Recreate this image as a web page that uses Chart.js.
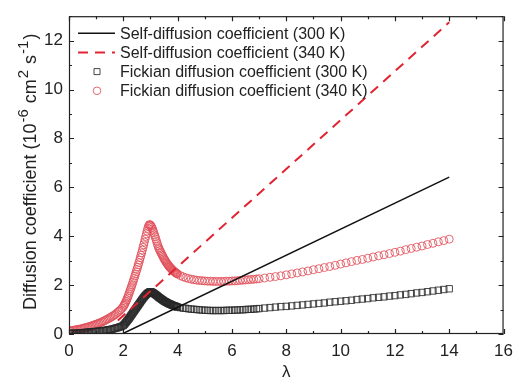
<!DOCTYPE html>
<html><head><meta charset="utf-8">
<script src="https://cdn.jsdelivr.net/npm/chart.js@4.4.1/dist/chart.umd.min.js"></script>
<style>html,body{margin:0;padding:0;background:#fff;} #wrap{width:520px;height:385px;}</style>
</head><body><div id="wrap"><canvas id="c" width="520" height="385"></canvas></div>
<script>
// ---- data ----
const lambdaF = [
  0,0.05,0.1,0.15,0.2,0.25,0.3,0.35,0.4,0.45,0.5,0.55,0.6,0.65,0.7,0.75,0.8,0.85,0.9,0.95,
  1.0,1.05,1.1,1.15,1.2,1.25,1.3,1.35,1.4,1.45,1.5,1.55,1.6,1.65,1.7,1.75,1.8,1.85,1.9,1.95,
  2.0,2.025,2.05,2.075,2.1,2.125,2.15,2.175,2.2,2.225,2.25,2.275,2.3,2.325,2.35,2.375,2.4,2.425,2.45,2.475,
  2.5,2.525,2.55,2.575,2.6,2.625,2.65,2.675,2.7,2.725,2.75,2.775,2.8,2.825,2.85,2.875,2.9,2.925,2.95,2.975,
  3.0,3.025,3.05,3.075,3.1,3.125,3.15,3.175,3.2,3.225,3.25,3.275,3.3,3.325,3.35,3.375,3.4,3.425,3.45,3.475,
  3.5,3.525,3.55,3.575,3.6,3.625,3.65,3.675,3.7,3.725,3.75,3.775,3.8,3.825,3.85,3.875,3.9,3.925,3.95,3.975,
  4.0,4.1,4.2,4.3,4.4,4.5,4.6,4.7,4.8,4.9,5.0,5.1,5.2,5.3,5.4,5.5,5.6,5.7,5.8,5.9,
  6.0,6.1,6.2,6.3,6.4,6.5,6.6,6.7,6.8,6.9,
  7.0,7.2,7.4,7.6,7.8,8.0,8.2,8.4,8.6,8.8,9.0,9.2,9.4,9.6,9.8,10.0,10.2,10.4,10.6,10.8,
  11.0,11.2,11.4,11.6,11.8,12.0,12.2,12.4,12.6,12.8,13.0,13.2,13.4,13.6,13.8,14.0
];
const fick300 = [
  0.02,0.02,0.02,0.03,0.03,0.03,0.03,0.04,0.04,0.05,0.05,0.06,0.06,0.07,0.07,0.08,0.08,0.09,0.09,0.10,
  0.10,0.11,0.11,0.12,0.13,0.14,0.14,0.15,0.16,0.17,0.18,0.19,0.20,0.22,0.23,0.25,0.26,0.28,0.30,0.32,
  0.35,0.38,0.41,0.45,0.48,0.52,0.55,0.59,0.62,0.66,0.70,0.74,0.78,0.82,0.86,0.90,0.94,0.98,1.02,1.06,
  1.10,1.14,1.18,1.22,1.26,1.30,1.34,1.38,1.42,1.46,1.49,1.53,1.56,1.59,1.62,1.65,1.67,1.69,1.71,1.72,
  1.72,1.72,1.71,1.70,1.68,1.66,1.64,1.62,1.60,1.58,1.56,1.53,1.51,1.49,1.47,1.45,1.43,1.41,1.39,1.37,
  1.35,1.33,1.32,1.30,1.29,1.27,1.26,1.24,1.23,1.22,1.21,1.19,1.18,1.17,1.16,1.15,1.14,1.13,1.12,1.11,
  1.10,1.08,1.06,1.05,1.03,1.02,1.01,1.00,0.99,0.98,0.97,0.97,0.96,0.96,0.96,0.96,0.96,0.96,0.97,0.97,
  0.97,0.98,0.98,0.99,0.99,1.00,1.01,1.01,1.02,1.03,
  1.04,1.06,1.08,1.10,1.12,1.13,1.15,1.17,1.19,1.21,1.23,1.25,1.27,1.30,1.32,1.34,1.36,1.38,1.41,1.43,
  1.45,1.48,1.50,1.52,1.55,1.57,1.60,1.62,1.65,1.68,1.70,1.73,1.76,1.79,1.82,1.85
];
const fick340 = [
  0.12,0.13,0.14,0.15,0.16,0.17,0.18,0.19,0.20,0.21,0.23,0.24,0.26,0.27,0.29,0.30,0.32,0.34,0.36,0.38,
  0.40,0.42,0.44,0.46,0.49,0.51,0.54,0.57,0.60,0.63,0.66,0.69,0.73,0.76,0.80,0.84,0.89,0.94,0.99,1.05,
  1.12,1.17,1.22,1.28,1.34,1.40,1.47,1.54,1.62,1.70,1.78,1.86,1.94,2.02,2.11,2.19,2.28,2.37,2.46,2.55,
  2.64,2.73,2.83,2.92,3.02,3.12,3.22,3.32,3.43,3.54,3.65,3.76,3.88,3.99,4.10,4.21,4.32,4.40,4.46,4.48,
  4.45,4.41,4.36,4.29,4.22,4.14,4.05,3.97,3.88,3.79,3.70,3.61,3.53,3.47,3.41,3.35,3.30,3.24,3.19,3.13,
  3.08,3.03,2.99,2.94,2.90,2.86,2.82,2.78,2.75,2.72,2.69,2.66,2.63,2.60,2.58,2.55,2.53,2.51,2.49,2.47,
  2.45,2.39,2.34,2.30,2.27,2.24,2.22,2.20,2.19,2.18,2.17,2.16,2.16,2.15,2.15,2.15,2.15,2.15,2.16,2.16,
  2.17,2.17,2.18,2.19,2.20,2.21,2.22,2.23,2.24,2.25,
  2.26,2.29,2.32,2.35,2.38,2.42,2.46,2.50,2.54,2.58,2.63,2.67,2.72,2.76,2.81,2.86,2.91,2.96,3.01,3.05,
  3.10,3.15,3.20,3.24,3.29,3.34,3.39,3.45,3.50,3.55,3.60,3.66,3.71,3.77,3.82,3.88
];
const self300Lambda = [1.95, 14];
const self300 = [0.0, 6.42];
const self340Lambda = [1.8, 14];
const self340 = [0.55, 12.75];
const seriesLabels = [
  'Self-diffusion coefficient (300 K)',
  'Self-diffusion coefficient (340 K)',
  'Fickian diffusion coefficient (300 K)',
  'Fickian diffusion coefficient (340 K)'
];
const xRange = [0, 16];
const yRange = [0, 13];
const xTitle = 'λ';
const yTitleParts = [
  ['Diffusion coefficient (10', false], ['-6', true], [' cm', false], ['2', true], [' s', false], ['-1', true], [')', false]
];

const FONT = "'Liberation Sans', Arial, Helvetica, sans-serif";
const pts = (xs, ys) => xs.map((x, i) => ({x, y: ys[i]}));

const decoPlugin = {
  id: 'deco',
  afterDatasetsDraw(chart) {
    const ctx = chart.ctx;
    const {left, right, top, bottom} = chart.chartArea;
    const xs = chart.scales.x, ys = chart.scales.y;
    ctx.save();
    ctx.strokeStyle = '#222';
    ctx.lineWidth = 1.2;
    ctx.strokeRect(left + 0.5, top + 0.5, right - left - 1, bottom - top - 1);
    ctx.beginPath();
    for (let v = xRange[0]; v <= xRange[1]; v += 1) {
      const p = Math.round(xs.getPixelForValue(v)) + 0.5;
      const len = v % 2 === 0 ? 5 : 3;
      ctx.moveTo(p, bottom); ctx.lineTo(p, bottom - len);
      ctx.moveTo(p, top); ctx.lineTo(p, top + len);
    }
    for (let v = yRange[0]; v <= yRange[1]; v += 1) {
      const p = Math.round(ys.getPixelForValue(v)) + 0.5;
      const len = v % 2 === 0 ? 5 : 3;
      ctx.moveTo(left, p); ctx.lineTo(left + len, p);
      ctx.moveTo(right, p); ctx.lineTo(right - len, p);
    }
    ctx.stroke();
    ctx.restore();
  },
  afterDraw(chart) {
    const ctx = chart.ctx;
    const {left, top, bottom} = chart.chartArea;
    ctx.save();
    // legend
    [0, 1, 2, 3].forEach((di, row) => {
      const ds = chart.data.datasets[di];
      const cy = top + 17 + row * 19.2;
      const x0 = left + 9, x1 = left + 46, cx = left + 28;
      if (ds.showLine) {
        ctx.beginPath();
        ctx.setLineDash(ds.borderDash || []);
        ctx.strokeStyle = ds.borderColor;
        ctx.lineWidth = ds.borderWidth;
        ctx.moveTo(x0, cy); ctx.lineTo(x1, cy);
        ctx.stroke();
        ctx.setLineDash([]);
      } else {
        ctx.strokeStyle = ds.borderColor;
        ctx.lineWidth = 1;
        ctx.beginPath();
        if (ds.pointStyle === 'rect') {
          ctx.rect(cx - 3, cy - 3, 6, 6);
        } else {
          ctx.arc(cx, cy, 3.8, 0, Math.PI * 2);
        }
        ctx.stroke();
      }
      ctx.fillStyle = '#222';
      ctx.font = '16px ' + FONT;
      ctx.textBaseline = 'middle';
      ctx.textAlign = 'left';
      ctx.fillText(ds.label, left + 51, cy + 1);
    });
    // y title with superscripts, reading bottom to top
    const normal = '18px ' + FONT, sup = '15px ' + FONT;
    const widths = yTitleParts.map(([t, s]) => {
      ctx.font = s ? sup : normal;
      return ctx.measureText(t).width + (s ? 2 : 0);
    });
    ctx.translate(36, bottom - 24);
    ctx.rotate(-Math.PI / 2);
    ctx.fillStyle = '#222';
    ctx.textBaseline = 'alphabetic';
    ctx.textAlign = 'left';
    let pos = 0;
    yTitleParts.forEach(([t, s], i) => {
      ctx.font = s ? sup : normal;
      ctx.fillText(t, pos + (s ? 1 : 0), s ? -8 : 0);
      pos += widths[i];
    });
    ctx.restore();
  }
};

new Chart(document.getElementById('c'), {
  type: 'line',
  data: {
    datasets: [
      { label: seriesLabels[0], data: pts(self300Lambda, self300), showLine: true,
        borderColor: '#111', borderWidth: 1.5, pointRadius: 0, fill: false },
      { label: seriesLabels[1], data: pts(self340Lambda, self340), showLine: true,
        borderColor: 'rgb(225,35,50)', borderWidth: 2, borderDash: [10, 7], pointRadius: 0, fill: false },
      { label: seriesLabels[2], data: pts(lambdaF, fick300), showLine: false,
        pointStyle: 'rect', pointRadius: 4.5, borderColor: 'rgba(40,40,40,0.85)', borderWidth: 1,
        backgroundColor: 'transparent' },
      { label: seriesLabels[3], data: pts(lambdaF, fick340), showLine: false,
        pointStyle: 'circle', pointRadius: 4, borderColor: 'rgba(225,80,90,0.85)', borderWidth: 1,
        backgroundColor: 'transparent' }
    ]
  },
  options: {
    responsive: false,
    animation: false,
    events: [],
    layout: { padding: { left: 0, right: 8, top: 8, bottom: 0 } },
    plugins: { legend: { display: false }, tooltip: { enabled: false } },
    scales: {
      x: {
        type: 'linear', min: xRange[0], max: xRange[1],
        grid: { display: false, drawTicks: false },
        border: { display: false },
        ticks: { stepSize: 2, padding: 7, color: '#222', font: { size: 17, family: FONT } },
        title: { display: true, text: xTitle, color: '#222', font: { size: 17, family: FONT }, padding: { top: 0, bottom: 2 } },
        afterFit: (s) => { s.height = 51; }
      },
      y: {
        type: 'linear', min: yRange[0], max: yRange[1],
        grid: { display: false, drawTicks: false },
        border: { display: false },
        ticks: { stepSize: 2, includeBounds: false, padding: 6, color: '#222', font: { size: 17, family: FONT } },
        afterFit: (s) => { s.width = 69; }
      }
    }
  },
  plugins: [decoPlugin]
});
</script>
</body></html>
